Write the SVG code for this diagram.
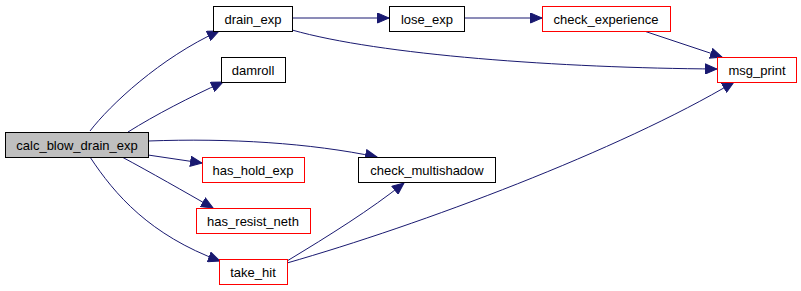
<svg xmlns="http://www.w3.org/2000/svg" width="801" height="291" viewBox="0 0 801 291">
  <style>
    .box { fill: #ffffff; stroke: #000000; stroke-width: 1; }
    .ext { fill: #ffffff; stroke: #ff0000; stroke-width: 1; }
    .root { fill: #bfbfbf; stroke: #000000; stroke-width: 1; }
    .lbl { font-family: "Liberation Sans", Arial, sans-serif; font-size: 13px; fill: #000000; text-anchor: middle; }
    .edge { fill: none; stroke: #191970; stroke-width: 1; marker-end: url(#arrow); }
  </style>
  <defs>
    <marker id="arrow" markerUnits="userSpaceOnUse" markerWidth="13" markerHeight="11" refX="12" refY="5.5" orient="auto">
      <path d="M0.5,0.5 L12,5.5 L0.5,10.5 Z" fill="#191970" stroke="#191970"/>
    </marker>
  </defs>
  <rect width="801" height="291" fill="#ffffff"/>

  <g id="connectors">
    <path class="edge" d="M90,131 C110,105 160,58 219,31"/>
    <path class="edge" d="M128,132 C155,115 190,97 223,82"/>
    <path class="edge" d="M148,141 C230,138 310,143 377,157"/>
    <path class="edge" d="M148,155 L202,163"/>
    <path class="edge" d="M122,157 C150,172 185,192 213,208"/>
    <path class="edge" d="M90,157 C115,195 150,235 220,261"/>
    <path class="edge" d="M292,18 L389,18"/>
    <path class="edge" d="M464,18 L542,18"/>
    <path class="edge" d="M292,30 C380,55 560,68 717,69"/>
    <path class="edge" d="M644,31 L722,57"/>
    <path class="edge" d="M287,261 C330,235 370,210 404,183"/>
    <path class="edge" d="M287,263 C420,225 620,150 734,82"/>
  </g>

  <g id="calc_blow_drain_exp">
    <rect class="root" x="5.5" y="132.5" width="143" height="25"/>
    <text class="lbl" x="77" y="149.5">calc_blow_drain_exp</text>
  </g>
  <g id="drain_exp">
    <rect class="box" x="213.5" y="6.5" width="79" height="25"/>
    <text class="lbl" x="253" y="23.5">drain_exp</text>
  </g>
  <g id="damroll">
    <rect class="box" x="221.5" y="57.5" width="64" height="25"/>
    <text class="lbl" x="253" y="74.5">damroll</text>
  </g>
  <g id="has_hold_exp">
    <rect class="ext" x="202.5" y="157.5" width="102" height="25"/>
    <text class="lbl" x="253" y="174.5">has_hold_exp</text>
  </g>
  <g id="has_resist_neth">
    <rect class="ext" x="196.5" y="208.5" width="114" height="25"/>
    <text class="lbl" x="253" y="225.5">has_resist_neth</text>
  </g>
  <g id="take_hit">
    <rect class="ext" x="219.5" y="259.5" width="68" height="25"/>
    <text class="lbl" x="253" y="276.5">take_hit</text>
  </g>
  <g id="lose_exp">
    <rect class="box" x="389.5" y="6.5" width="75" height="25"/>
    <text class="lbl" x="427" y="23.5">lose_exp</text>
  </g>
  <g id="check_multishadow">
    <rect class="box" x="358.5" y="157.5" width="137" height="25"/>
    <text class="lbl" x="427" y="174.5">check_multishadow</text>
  </g>
  <g id="check_experience">
    <rect class="ext" x="542.5" y="6.5" width="128" height="25"/>
    <text class="lbl" x="606" y="23.5">check_experience</text>
  </g>
  <g id="msg_print">
    <rect class="ext" x="717.5" y="57.5" width="79" height="25"/>
    <text class="lbl" x="757" y="74.5">msg_print</text>
  </g>
</svg>
